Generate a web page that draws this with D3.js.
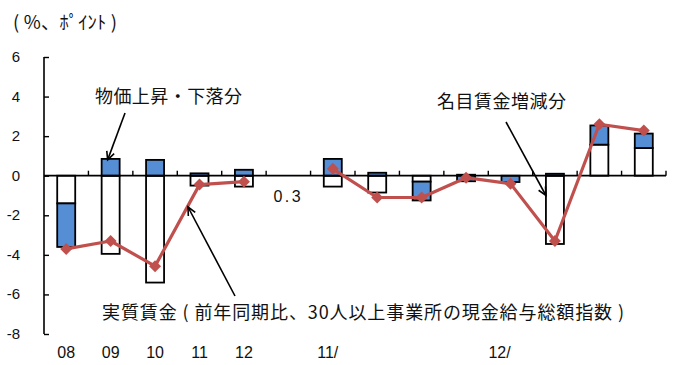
<!DOCTYPE html>
<html>
<head>
<meta charset="utf-8">
<script src="https://cdn.jsdelivr.net/npm/d3@7/dist/d3.min.js"></script>
<style>
  html, body { margin: 0; padding: 0; background: #fff; }
  svg { display: block; }
  .jp { font-family: "Noto Sans CJK JP", sans-serif; fill: #111; }
  .num { font-family: "Liberation Sans", Arial, sans-serif; fill: #111; }
  .narrow { font-family: "Liberation Sans Narrow", "Liberation Sans", Arial, sans-serif; fill: #111; }
</style>
</head>
<body>
<svg id="chart" width="678" height="365"></svg>
<script>
// Periods: five calendar years, a spacer, then eight quarters (2011–2012)
const periods = ["08", "09", "10", "11", "12", "gap",
                 "11Q1", "11Q2", "11Q3", "11Q4", "12Q1", "12Q2", "12Q3", "12Q4"];
const tickLabels = ["08", "09", "10", "11", "12", "", "11/", "", "", "", "12/", "", "", ""];

// Nominal wage contribution (white), price contribution (blue), real wage (line), %/pt
const nominalPart = [-1.4, -3.95, -5.4, -0.5, -0.55, null, -0.55, -0.85, -0.3, 0.05, 0.0, -3.45, 1.57, 1.4];
const pricePart   = [-2.2, 0.85, 0.8, 0.12, 0.3, null, 0.85, 0.15, -0.95, -0.28, -0.32, 0.1, 0.97, 0.73];
const realWage    = [-3.7, -3.3, -4.57, -0.45, -0.3, null, 0.35, -1.1, -1.1, -0.1, -0.4, -3.3, 2.6, 2.28];

const yTicks = [6, 4, 2, 0, -2, -4, -6, -8];

const svg = d3.select("#chart");

const x = d3.scaleBand().domain(periods).range([44, 666]).padding(0);
const y = d3.scaleLinear().domain([-8, 6]).range([334, 57]);
const barW = 18;

// Stack nominal + price, positives up and negatives down from zero
const rows = periods.map((p, i) => ({ period: p, nominal: nominalPart[i] ?? 0, price: pricePart[i] ?? 0, has: nominalPart[i] != null }));
const stacked = d3.stack().keys(["nominal", "price"]).offset(d3.stackOffsetDiverging)(rows);
const fills = { nominal: "#ffffff", price: "#558ed5" };

const barG = svg.append("g");
stacked.forEach(layer => {
  barG.selectAll(null)
    .data(layer.filter(d => d.data.has && d[1] !== d[0]))
    .join("rect")
    .attr("x", d => x(d.data.period) + x.bandwidth() / 2 - barW / 2)
    .attr("width", barW)
    .attr("y", d => y(Math.max(d[0], d[1])))
    .attr("height", d => Math.abs(y(d[0]) - y(d[1])))
    .attr("fill", fills[layer.key])
    .attr("stroke", "#000")
    .attr("stroke-width", 1.8);
});

// Y axis: ticks point inward
const yAxis = svg.append("g").attr("transform", "translate(44,0)")
  .call(d3.axisRight(y).tickValues(yTicks).tickSize(5).tickFormat(""));
yAxis.select(".domain").attr("stroke", "#000").attr("stroke-width", 1.6).attr("d", `M0,${y(6)}V${y(-8)}`);
yAxis.selectAll(".tick line").attr("stroke", "#000").attr("stroke-width", 1.4);

svg.append("g").selectAll("text").data(yTicks).join("text")
  .attr("class", "num")
  .attr("x", 20).attr("y", d => y(d) + 5)
  .attr("text-anchor", "end")
  .attr("font-size", 15)
  .text(d => d);

// X axis at zero with upward ticks at band boundaries
const boundaries = periods.map(p => x(p)).concat([x.range()[1]]).slice(1);
svg.append("line")
  .attr("x1", 44).attr("x2", 666)
  .attr("y1", y(0)).attr("y2", y(0))
  .attr("stroke", "#000").attr("stroke-width", 1.8);
svg.append("g").selectAll("line").data(boundaries).join("line")
  .attr("x1", d => d).attr("x2", d => d)
  .attr("y1", y(0)).attr("y2", y(0) - 5)
  .attr("stroke", "#000").attr("stroke-width", 1.4);

// Category labels along the bottom
svg.append("g").selectAll("text").data(periods).join("text")
  .attr("class", "narrow")
  .attr("x", (d, i) => x(d) + x.bandwidth() / 2 - (tickLabels[i].endsWith("/") ? 5 + (i > 8 ? 6 : 0) : 0))
  .attr("y", 358)
  .attr("text-anchor", "middle")
  .attr("font-size", 16)
  .text((d, i) => tickLabels[i]);

// Real wage line with diamond markers
const pts = periods.map((p, i) => ({ period: p, v: realWage[i] }));
const line = d3.line()
  .defined(d => d.v != null)
  .x(d => x(d.period) + x.bandwidth() / 2)
  .y(d => y(d.v));
svg.append("path").datum(pts)
  .attr("d", line)
  .attr("fill", "none")
  .attr("stroke", "#c0504d")
  .attr("stroke-width", 3.2)
  .attr("stroke-linejoin", "round");
svg.append("g").selectAll("path").data(pts.filter(d => d.v != null)).join("path")
  .attr("transform", d => `translate(${x(d.period) + x.bandwidth() / 2},${y(d.v)})`)
  .attr("d", "M0,-6L6,0L0,6L-6,0Z")
  .attr("fill", "#c0504d");

// Annotations
const cx = p => x(p) + x.bandwidth() / 2;
function arrow(x1, y1, x2, y2) {
  const g = svg.append("g").attr("stroke", "#000").attr("stroke-width", 1.6).attr("fill", "none");
  g.append("line").attr("x1", x1).attr("y1", y1).attr("x2", x2).attr("y2", y2);
  const a = Math.atan2(y2 - y1, x2 - x1), L = 9, s = 0.45;
  g.append("path").attr("d",
    `M${x2 - L * Math.cos(a - s)},${y2 - L * Math.sin(a - s)}L${x2},${y2}L${x2 - L * Math.cos(a + s)},${y2 - L * Math.sin(a + s)}`);
}
function label(tx, ty, size, width, str) {
  svg.append("text").attr("class", "jp")
    .attr("x", tx).attr("y", ty).attr("font-size", size)
    .attr("textLength", width).attr("lengthAdjust", "spacing")
    .text(str);
}

label(13, 29, 18.5, 104, "( %、ﾎﾟｲﾝﾄ )");

label(95, 103, 18, 147, "物価上昇・下落分");
arrow(125, 113, cx("09") - 3, y(pricePart[1]) + 1);

label(437, 108, 18, 129, "名目賃金増減分");
arrow(506, 122, cx("12Q2") - 9, y(-1.0));

label(102, 319, 18, 522, "実質賃金 ( 前年同期比、30人以上事業所の現金給与総額指数 )");
arrow(235, 296, 188, 207);

svg.append("text").attr("class", "num")
  .attr("x", cx("gap")).attr("y", 202).attr("text-anchor", "middle")
  .attr("font-size", 16).attr("letter-spacing", 2.5)
  .text("0.3");
</script>
</body>
</html>
